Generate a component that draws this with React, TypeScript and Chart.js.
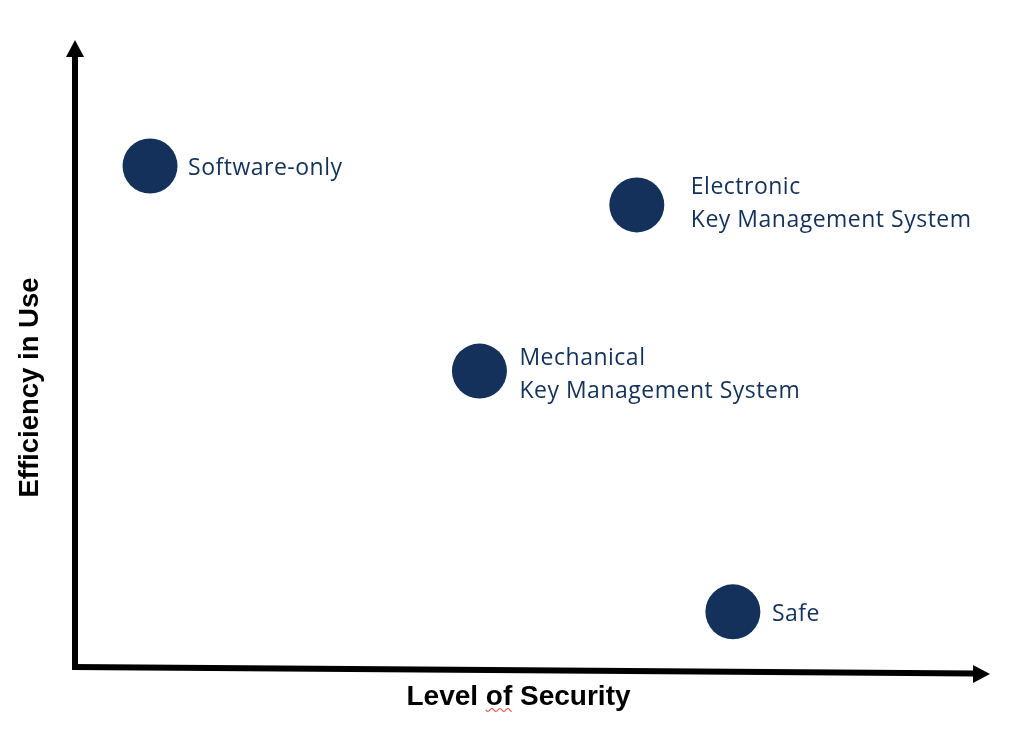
import React, { useEffect, useRef } from 'react';
import { Chart, registerables, Plugin } from 'chart.js';

Chart.register(...registerables);

// positioning map data
const systemLabels: string[][] = [
  ['Software-only'],
  ['Electronic', 'Key Management System'],
  ['Mechanical', 'Key Management System'],
  ['Safe'],
];
const securityLevel = [0.82, 6.14, 4.42, 7.19];
const efficiencyInUse = [7.99, 7.37, 4.72, 0.88];
const xAxisTitle = 'Level of Security';
const yAxisTitle = 'Efficiency in Use';

// styling
const NAVY = '#13315a';
const LABEL_FONT = '23px "Open Sans"';
const TITLE_FONT = 'bold 28px "Liberation Sans"';
const labelDx = [38, 54, 40, 39];
const labelDy = [1, -18.5, -14, 1];
const LINE_GAP = 32.5;

const decorPlugin: Plugin<'scatter'> = {
  id: 'decor',
  beforeDatasetsDraw(chart) {
    const { ctx, chartArea: a } = chart;
    ctx.save();
    ctx.fillStyle = '#000';
    ctx.strokeStyle = '#000';
    ctx.lineWidth = 6;

    // y axis with arrow head
    ctx.beginPath();
    ctx.moveTo(a.left, a.bottom + 3);
    ctx.lineTo(a.left, a.top + 14);
    ctx.stroke();
    ctx.beginPath();
    ctx.moveTo(a.left, a.top);
    ctx.lineTo(a.left - 9, a.top + 17);
    ctx.lineTo(a.left + 9, a.top + 17);
    ctx.closePath();
    ctx.fill();

    // x axis (slightly tilted, like the hand drawn original)
    ctx.beginPath();
    ctx.moveTo(a.left - 3, a.bottom);
    ctx.lineTo(a.right - 14, a.bottom + 6.5);
    ctx.stroke();
    ctx.beginPath();
    ctx.moveTo(a.right, a.bottom + 7);
    ctx.lineTo(a.right - 17, a.bottom - 2);
    ctx.lineTo(a.right - 17, a.bottom + 16);
    ctx.closePath();
    ctx.fill();

    // axis titles
    ctx.font = TITLE_FONT;
    ctx.textBaseline = 'alphabetic';
    ctx.textAlign = 'center';
    const tx = (a.left + a.right) / 2 - 14;
    const ty = a.bottom + 38;
    ctx.fillText(xAxisTitle, tx, ty);

    // spell-check squiggle under "of"
    const full = ctx.measureText(xAxisTitle).width;
    const pre = ctx.measureText('Level ').width;
    const ofW = ctx.measureText('of').width;
    const sx = tx - full / 2 + pre;
    ctx.strokeStyle = '#e0695f';
    ctx.lineWidth = 1.2;
    ctx.beginPath();
    for (let i = 0; i <= ofW; i += 1) {
      const yy = ty + 5 + Math.sin((i / 4) * Math.PI) * 1.5;
      if (i === 0) ctx.moveTo(sx + i, yy);
      else ctx.lineTo(sx + i, yy);
    }
    ctx.stroke();

    ctx.save();
    ctx.translate(38, (a.top + a.bottom) / 2 + 34);
    ctx.rotate(-Math.PI / 2);
    ctx.fillStyle = '#000';
    ctx.textAlign = 'center';
    ctx.font = 'bold 27.5px "Liberation Sans"';
    ctx.fillText(yAxisTitle, 0, 0);
    ctx.restore();

    ctx.restore();
  },
  afterDatasetsDraw(chart) {
    const { ctx } = chart;
    const meta = chart.getDatasetMeta(0);
    ctx.save();
    ctx.font = LABEL_FONT;
    (ctx as any).letterSpacing = '0.5px';
    ctx.fillStyle = NAVY;
    ctx.textAlign = 'left';
    ctx.textBaseline = 'alphabetic';
    meta.data.forEach((pt, i) => {
      const lines = systemLabels[i];
      lines.forEach((line, j) => {
        ctx.fillText(line, pt.x + labelDx[i], pt.y + labelDy[i] + j * LINE_GAP + 8);
      });
    });
    ctx.restore();
  },
};

const App: React.FC = () => {
  const canvasRef = useRef<HTMLCanvasElement>(null);
  const chartRef = useRef<Chart<'scatter'>>();

  useEffect(() => {
    if (!canvasRef.current) return;
    if (chartRef.current) chartRef.current.destroy();

    chartRef.current = new Chart(canvasRef.current, {
      type: 'scatter',
      data: {
        datasets: [
          {
            label: 'Systems',
            data: securityLevel.map((x, i) => ({ x, y: efficiencyInUse[i] })),
            backgroundColor: NAVY,
            borderWidth: 0,
            pointRadius: 27.5,
            pointHoverRadius: 27.5,
          },
        ],
      },
      options: {
        responsive: false,
        animation: false,
        layout: { padding: { left: 75, right: 34, top: 40, bottom: 79 } },
        plugins: { legend: { display: false }, tooltip: { enabled: false } },
        scales: {
          x: { type: 'linear', min: 0, max: 10, display: false },
          y: { type: 'linear', min: 0, max: 10, display: false },
        },
      },
      plugins: [decorPlugin],
    });

    return () => {
      if (chartRef.current) {
        chartRef.current.destroy();
        chartRef.current = undefined;
      }
    };
  }, []);

  return (
    <div style={{ position: 'absolute', left: 0, top: 0, width: 1024, height: 746, background: '#fff' }}>
      <canvas ref={canvasRef} width={1024} height={746} />
    </div>
  );
};

export default App;
